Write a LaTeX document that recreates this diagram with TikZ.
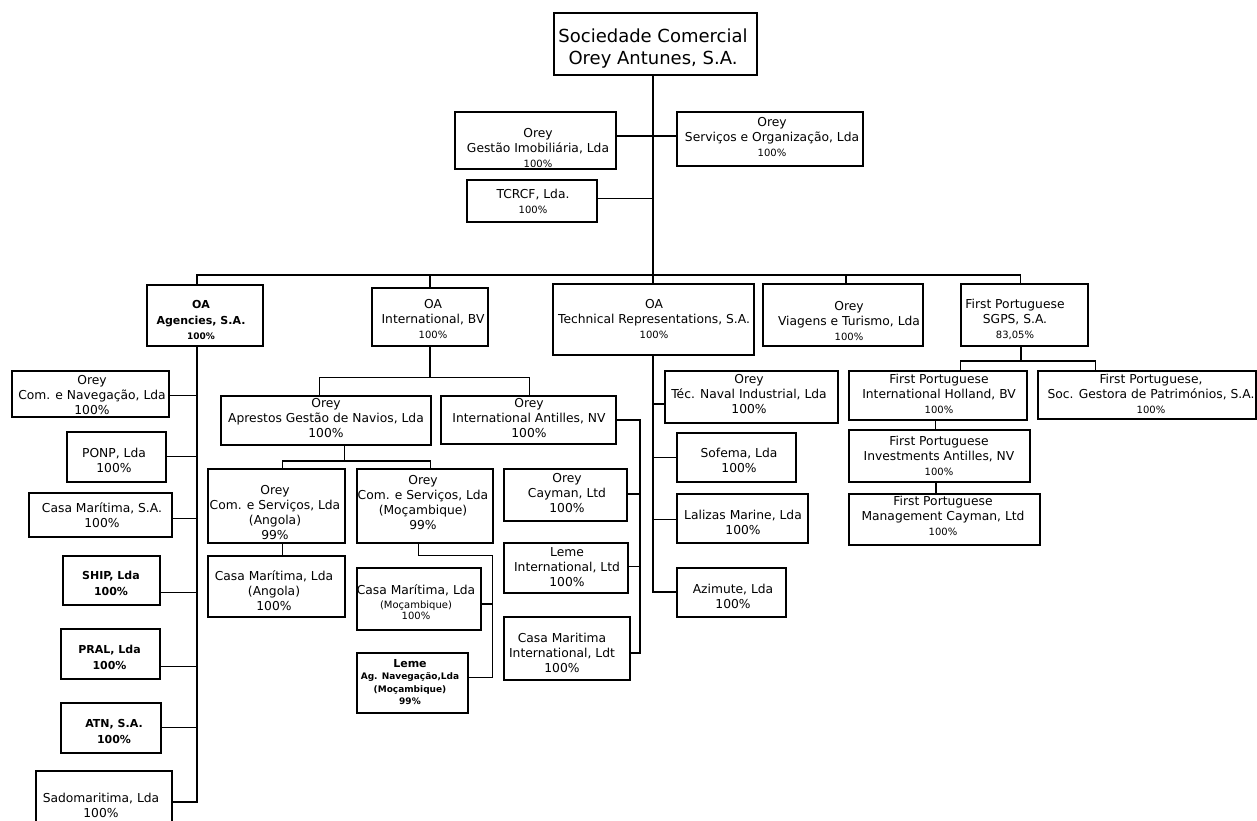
\documentclass[tikz,border=0pt]{standalone}
\usepackage{fontspec}
\setmainfont{DejaVu Sans}
\newcommand\smallpct{\fontsize{10}{12}\selectfont}
\tikzset{
  box/.style={draw, line width=1.3pt, inner sep=0pt, outer sep=0pt},
  tbox/.style={box, line width=2pt},
  txt/.style={align=center, inner sep=0pt, font=\fontsize{12.3}{15}\selectfont},
  rtxt/.style={txt, font=\fontsize{18}{22}\selectfont},
  btxt/.style={txt, font=\fontsize{11}{15.5}\selectfont\bfseries},
  ltxt/.style={txt, font=\fontsize{9}{12.5}\selectfont\bfseries},
  conn/.style={line width=1.3pt},
  tconn/.style={line width=2pt}
}
% [text style]{name}{x1}{y1}{x2}{y2}{text x}{text y}{text}
\newcommand\obox[9][txt]{%
  \node[box,minimum width={#5-#3},minimum height={#6-#4}] (#2) at ({(#3+#5)/2},{(#4+#6)/2}) {};
  \node[#1] (#2-t) at (#7,#8) {#9};}
\newcommand\thbox[9][txt]{%
  \node[tbox,minimum width={#5-#3},minimum height={#6-#4}] (#2) at ({(#3+#5)/2},{(#4+#6)/2}) {};
  \node[#1] (#2-t) at (#7,#8) {#9};}
\begin{document}
\begin{tikzpicture}[x=1pt,y=-1pt]
\path[fill=white] (0,0) rectangle (1257,820);
\useasboundingbox (0,0) rectangle (1257,820);

% top
\obox[rtxt]{root}{554}{13}{757}{75}{653}{49}{Sociedade Comercial\\Orey Antunes, S.A.}
\obox{gestao}{455}{112}{616}{169}{538}{147.5}{Orey\\Gestão Imobiliária, Lda\\{\smallpct 100\%}}
\obox{servicos}{677}{112}{863}{166}{772}{137}{Orey\\Serviços e Organização, Lda\\{\smallpct 100\%}}
\obox{tcrcf}{467}{180}{597}{222}{533}{201}{TCRCF, Lda.\\{\smallpct 100\%}}

% second level
\thbox[btxt]{agencies}{147}{285}{263}{346}{201}{320}{OA\\Agencies, S.A.\\{\fontsize{9}{12}\selectfont 100\%}}
\obox{oaintl}{372}{288}{488}{346}{433}{319}{OA\\International, BV\\{\smallpct 100\%}}
\obox{oatech}{553}{284}{754}{355}{654}{319}{OA\\Technical Representations, S.A.\\{\smallpct 100\%}}
\obox{viagens}{763}{284}{923}{346}{849}{320.5}{Orey\\Viagens e Turismo, Lda\\{\smallpct 100\%}}
\obox{fpsgps}{961}{284}{1088}{346}{1015}{319.5}{First Portuguese\\SGPS, S.A.\\{\smallpct 83,05\%}}

% OA Agencies children
\obox{comnav}{12}{371}{169}{417}{92}{395}{Orey\\Com. e Navegação, Lda\\100\%}
\obox{ponp}{67}{432}{166}{482}{114}{460.7}{PONP, Lda\\100\%}
\obox{casams}{29}{493}{172}{537}{102}{515}{Casa Marítima, S.A.\\100\%}
\thbox[btxt]{ship}{63}{556}{160}{605}{111}{583.3}{SHIP, Lda\\100\%}
\thbox[btxt]{pral}{61}{629}{160}{679}{109.5}{657.5}{PRAL, Lda\\100\%}
\thbox[btxt]{atn}{61}{703}{161}{753}{114}{731.7}{ATN, S.A.\\100\%}
\obox{sado}{36}{771}{172}{823}{101}{805.2}{Sadomaritima, Lda\\100\%}

% OA International children
\obox{apresto}{221}{396}{431}{445}{326}{418.5}{Orey\\Aprestos Gestão de Navios, Lda\\100\%}
\obox{antilles}{441}{396}{616}{444}{529}{418.5}{Orey\\International Antilles, NV\\100\%}
\obox{angola}{208}{469}{345}{543}{275}{512.8}{Orey\\Com. e Serviços, Lda\\(Angola)\\99\%}
\obox{casaang}{208}{556}{345}{617}{274}{590.5}{Casa Marítima, Lda\\(Angola)\\100\%}
\obox{mocam}{357}{469}{493}{543}{423}{502.5}{Orey\\Com. e Serviços, Lda\\(Moçambique)\\99\%}
\obox{casamoc}{357}{568}{481}{630}{416}{601.8}{Casa Marítima, Lda\\[-1pt]{\smallpct (Moçambique)}\\[-4pt]{\smallpct 100\%}}
\thbox[ltxt]{leme}{357}{653}{468}{713}{410}{681.8}{{\fontsize{11}{12.5}\selectfont Leme}\\Ag. Navegação,Lda\\(Moçambique)\\99\%}
\obox{cayman}{504}{469}{627}{521}{567}{493}{Orey\\Cayman, Ltd\\100\%}
\obox{lemeint}{504}{543}{628}{593}{567}{566.7}{Leme\\International, Ltd\\100\%}
\obox{casaint}{504}{617}{630}{680}{562}{652.5}{Casa Maritima\\International, Ldt\\100\%}

% OA Technical children
\obox{tecnaval}{665}{371}{838}{423}{749}{393.7}{Orey\\Téc. Naval Industrial, Lda\\100\%}
\obox{sofema}{677}{433}{796}{482}{739}{460}{Sofema, Lda\\100\%}
\obox{lalizas}{677}{494}{808}{543}{743}{522}{Lalizas Marine, Lda\\100\%}
\obox{azimute}{677}{568}{786}{617}{733}{596}{Azimute, Lda\\100\%}

% First Portuguese children
\obox{fpholland}{849}{371}{1027}{420}{939}{393.7}{First Portuguese\\International Holland, BV\\{\smallpct 100\%}}
\obox{fpsoc}{1038}{371}{1256}{419}{1151}{393.7}{First Portuguese,\\Soc. Gestora de Patrimónios, S.A.\\{\smallpct 100\%}}
\obox{fpinv}{849}{430}{1030}{482}{939}{455.8}{First Portuguese\\Investments Antilles, NV\\{\smallpct 100\%}}
\obox{fpman}{849}{494}{1040}{545}{943}{515.8}{First Portuguese\\Management Cayman, Ltd\\{\smallpct 100\%}}

% coordinates for connector columns
\coordinate (trk) at (652.5,0);
\coordinate (bar) at (0,275);
\coordinate (cAg) at (197,0);
\coordinate (cIn) at (430,0);
\coordinate (cVi) at (846,0);
\coordinate (cFp) at (1020.5,0);
\coordinate (cAn) at (640,0);
\coordinate (cMo) at (492.7,0);

% top connectors
\draw[tconn] (root.south -| trk) -- (oatech.north -| trk);
\draw[conn] (gestao.east |- 0,136) -- (servicos.west |- 0,136);
\draw[conn] (tcrcf.east |- 0,198.3) -- (trk |- 0,198.3);
\draw[conn] (agencies.north -| cAg) -- (cAg |- bar) -- (cFp |- bar) -- (fpsgps.north -| cFp);
\draw[conn] (oaintl.north -| cIn) -- (cIn |- bar);
\draw[conn] (viagens.north -| cVi) -- (cVi |- bar);

% OA Agencies
\draw[tconn] (agencies.south -| cAg) -- (cAg |- 0,801.7) -- (sado.east |- 0,801.7);
\foreach \n/\y in {comnav/395.7, ponp/456.7, casams/518.3, ship/592.3, pral/666.7, atn/727.7}
  \draw[conn] (\n.east |- 0,\y) -- (cAg |- 0,\y);

% OA International
\draw[conn] (oaintl.south -| cIn) -- (cIn |- 0,377.3);
\draw[conn] (apresto.north -| 319.3,0) |- (529.3,377.3) -- (antilles.north -| 529.3,0);
\draw[conn] (apresto.south -| 344.3,0) -- (344.3,461);
\draw[conn] (angola.north -| 282.7,0) |- (430.7,461) -- (mocam.north -| 430.7,0);
\draw[conn] (angola.south -| 282.7,0) -- (casaang.north -| 282.7,0);
\draw[conn] (mocam.south -| 418.3,0) |- (cMo |- 0,555.7) -- (cMo |- 0,677.7) -- (leme.east |- 0,677.7);
\draw[conn] (casamoc.east |- 0,604) -- (cMo |- 0,604);
\draw[tconn] (antilles.east |- 0,420) -| (cAn |- 0,653.3) -- (casaint.east |- 0,653.3);
\draw[conn] (cayman.east |- 0,494) -- (cAn |- 0,494);
\draw[conn] (lemeint.east |- 0,566.7) -- (cAn |- 0,566.7);

% OA Technical
\draw[tconn] (oatech.south -| trk) -- (trk |- 0,592.3) -- (azimute.west |- 0,592.3);
\foreach \n/\y in {tecnaval/404, sofema/457.3, lalizas/519.3}
  \draw[conn] (trk |- 0,\y) -- (\n.west |- 0,\y);

% First Portuguese
\draw[tconn] (fpsgps.south -| cFp) -- (cFp |- 0,361);
\draw[conn] (fpholland.north -| 960.7,0) |- (1095.7,361) -- (fpsoc.north -| 1095.7,0);
\draw[conn] (fpholland.south -| 935.7,0) -- (fpinv.north -| 935.7,0);
\draw[conn] (fpinv.south -| 936,0) -- (fpman.north -| 936,0);
\end{tikzpicture}
\end{document}
